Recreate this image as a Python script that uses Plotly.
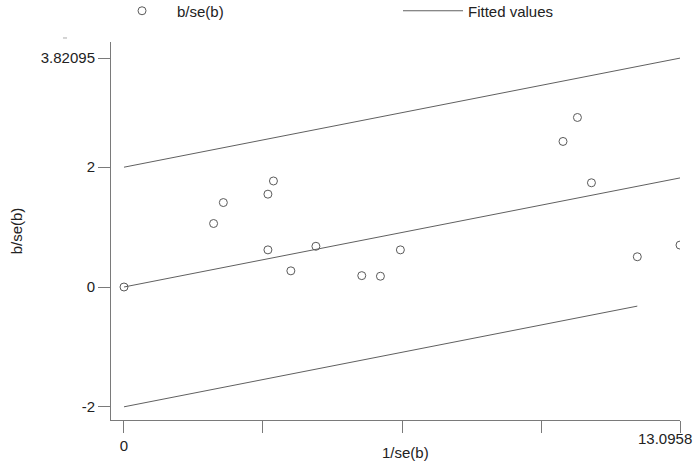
import plotly.graph_objects as go

# data
inv_se = [0.0, 2.11, 2.34, 3.39, 3.52, 3.39, 3.93, 4.52, 5.60, 6.04, 6.51,
          10.34, 10.68, 11.01, 12.09, 13.0958]
z_score = [0.0, 1.06, 1.41, 1.55, 1.77, 0.62, 0.27, 0.68, 0.19, 0.18, 0.62,
           2.43, 2.83, 1.74, 0.505, 0.70]
x_max = 13.0958
slope = 1.82095 / x_max
fit_x = [0.0, x_max]
fit_mid = [0.0, slope * x_max]
fit_up = [2.0, 2.0 + slope * x_max]
low_x = [0.0, 12.09]
fit_low = [-2.0, -2.0 + slope * 12.09]

xtick_vals = [0, x_max / 4, x_max / 2, 3 * x_max / 4, x_max]
xtick_text = ["0", "", "", "", ""]
last_xtick_label = "13.0958"
ytick_vals = [-2, 0, 2, 3.82095]
ytick_text = ["-2", "0", "2", "3.82095"]

FONT = "Liberation Sans, Arial, sans-serif"
TXT = "#222222"
LINE = "#606060"
AX = "#7a7a7a"

fig = go.Figure()
fig.add_trace(go.Scatter(x=inv_se, y=z_score, mode="markers", name="b/se(b)",
                         legend="legend",
                         marker=dict(symbol="circle-open", size=8,
                                     color="#5a5a5a", line=dict(width=1))))
fig.add_trace(go.Scatter(x=fit_x, y=fit_mid, mode="lines", name="Fitted values",
                         legend="legend2",
                         line=dict(color=LINE, width=1)))
fig.add_trace(go.Scatter(x=fit_x, y=fit_up, mode="lines", showlegend=False,
                         line=dict(color=LINE, width=1)))
fig.add_trace(go.Scatter(x=low_x, y=fit_low, mode="lines", showlegend=False,
                         line=dict(color=LINE, width=1)))

axis_common = dict(showgrid=False, zeroline=False, showline=True,
                   linecolor=AX, linewidth=1, ticks="outside",
                   ticklen=12, tickcolor=AX,
                   tickfont=dict(family=FONT, size=15, color=TXT))
leg_common = dict(orientation="h", yanchor="middle", xanchor="left",
                  itemwidth=60, bgcolor="rgba(0,0,0,0)",
                  font=dict(family=FONT, size=15, color=TXT))
fig.update_layout(
    width=700, height=469,
    margin=dict(l=111, r=20, t=42, b=49, autoexpand=False),
    plot_bgcolor="white", paper_bgcolor="white",
    showlegend=True,
    legend=dict(x=-0.007, y=1.082, **leg_common),
    legend2=dict(x=0.5044, y=1.082, **leg_common),
    xaxis=dict(range=[-0.306, x_max], tickvals=xtick_vals, ticktext=xtick_text,
               **axis_common),
    yaxis=dict(range=[-2.22, 4.09], tickvals=ytick_vals, ticktext=ytick_text,
               title=dict(text="b/se(b)", standoff=14,
                          font=dict(family=FONT, size=15, color=TXT)),
               **axis_common),
    annotations=[
        dict(text=last_xtick_label, xref="x", yref="paper",
             x=x_max, y=0, xanchor="right", yanchor="top",
             xshift=14, yshift=-8, showarrow=False,
             font=dict(family=FONT, size=15, color=TXT)),
        dict(text="1/se(b)", xref="paper", yref="paper",
             x=0.5167, y=-0.0873, xanchor="center", yanchor="middle",
             showarrow=False, font=dict(family=FONT, size=15, color=TXT)),
    ],
    shapes=[dict(type="line", xref="paper", yref="paper",
                 x0=-0.0844, x1=-0.0773, y0=1.0106, y1=1.0106,
                 line=dict(color="#aaaaaa", width=1))],
)
fig.write_html("out.html", config={"displayModeBar": False},
               post_script="document.body.style.margin='0px';")
